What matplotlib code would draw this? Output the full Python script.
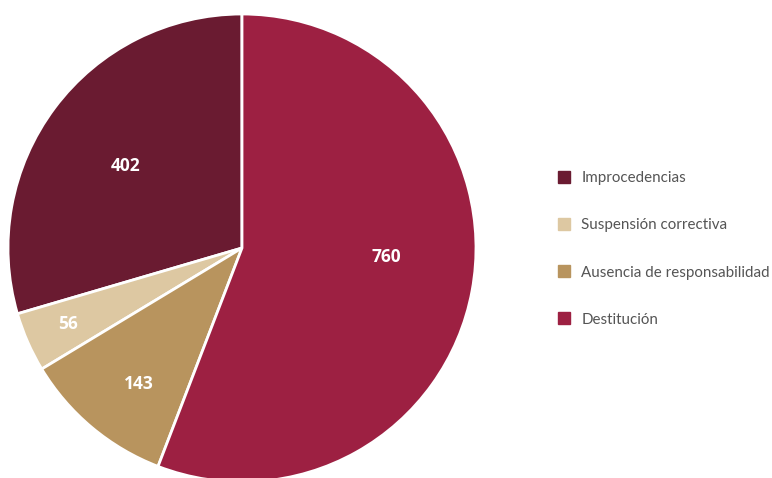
import numpy as np
import matplotlib
matplotlib.use("Agg")
import matplotlib.pyplot as plt
from matplotlib.lines import Line2D

plt.rcParams["font.family"] = ["Lato", "DejaVu Sans"]

categories = ["Improcedencias", "Suspensión correctiva", "Ausencia de responsabilidad", "Destitución"]
values = [402, 56, 143, 760]
colors = ["#6A1B31", "#DDC8A2", "#B8945E", "#9D2042"]

# label placement: fraction of radius, angle nudge in degrees
label_radius = [0.61, 0.81, 0.73, 0.62]
label_nudge = [1.8, 0.0, 2.6, 7.0]


def main():
    fig = plt.figure(figsize=(7.72, 4.78), dpi=100)
    ax = fig.add_axes([(242 - 234) / 772, (230 - 234) / 478, 468 / 772, 468 / 478])

    wedges, _ = ax.pie(
        values,
        colors=colors,
        startangle=90,
        counterclock=True,
        radius=1.0,
        wedgeprops={"edgecolor": "white", "linewidth": 2.0},
    )
    for w, v, r, d in zip(wedges, values, label_radius, label_nudge):
        ang = np.deg2rad((w.theta1 + w.theta2) / 2 + d)
        ax.text(r * np.cos(ang), r * np.sin(ang), str(v), ha="center", va="center",
                color="white", fontsize=12.5, fontweight="bold",
                family=["Open Sans", "DejaVu Sans"])
    ax.set_xlim(-1, 1)
    ax.set_ylim(-1, 1)
    ax.set_aspect("equal")
    ax.axis("off")

    handles = [Line2D([], [], marker="s", ls="", markersize=8.5, color=c) for c in colors]
    fig.legend(handles, categories, loc="center left", bbox_to_anchor=(543 / 772, 1 - 249 / 478),
               frameon=False, fontsize=10.9, labelcolor="#555555", labelspacing=2.18,
               handletextpad=0.62, handlelength=1.0)

    fig.savefig("out.png", dpi=100)
    plt.close(fig)


if __name__ == "__main__":
    main()
